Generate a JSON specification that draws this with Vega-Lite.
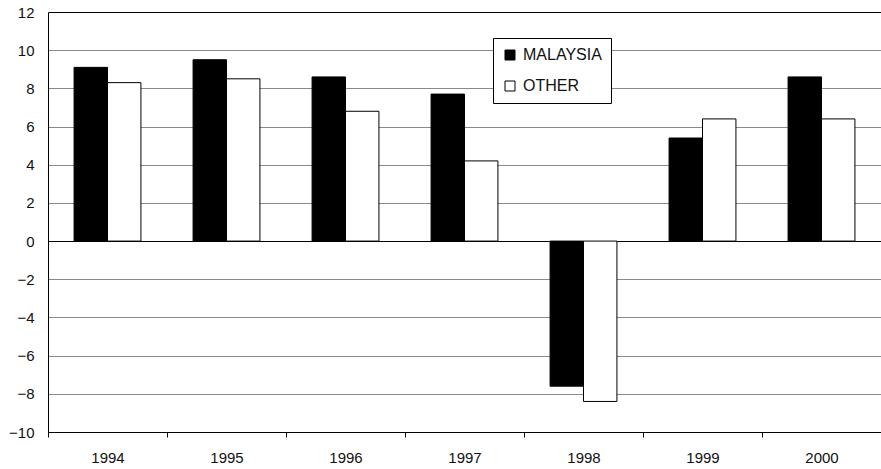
{
  "$schema": "https://vega.github.io/schema/vega-lite/v6.json",
  "width": 833,
  "height": 420,
  "autosize": {"type": "none"},
  "padding": {"left": 48, "top": 12, "right": 0, "bottom": 37},
  "background": "white",
  "config": {
    "font": "Liberation Sans",
    "view": {"stroke": null},
    "axis": {"labelFont": "Liberation Sans", "labelFontSize": 15, "labelColor": "#111"}
  },
  "data": {
    "values": [
      {"year": "1994", "series": "MALAYSIA", "value": 9.1},
      {"year": "1994", "series": "OTHER", "value": 8.3},
      {"year": "1995", "series": "MALAYSIA", "value": 9.5},
      {"year": "1995", "series": "OTHER", "value": 8.5},
      {"year": "1996", "series": "MALAYSIA", "value": 8.6},
      {"year": "1996", "series": "OTHER", "value": 6.8},
      {"year": "1997", "series": "MALAYSIA", "value": 7.7},
      {"year": "1997", "series": "OTHER", "value": 4.2},
      {"year": "1998", "series": "MALAYSIA", "value": -7.6},
      {"year": "1998", "series": "OTHER", "value": -8.4},
      {"year": "1999", "series": "MALAYSIA", "value": 5.4},
      {"year": "1999", "series": "OTHER", "value": 6.4},
      {"year": "2000", "series": "MALAYSIA", "value": 8.6},
      {"year": "2000", "series": "OTHER", "value": 6.4}
    ]
  },
  "mark": {"type": "bar", "stroke": "black", "strokeWidth": 1},
  "encoding": {
    "x": {
      "field": "year",
      "type": "nominal",
      "scale": {"paddingInner": 0, "paddingOuter": 0},
      "axis": {
        "title": null,
        "labelAngle": 0,
        "tickBand": "extent",
        "domainColor": "black",
        "domainWidth": 1,
        "tickColor": "black",
        "tickSize": 5,
        "labelPadding": 13,
        "grid": false
      }
    },
    "xOffset": {
      "field": "series",
      "type": "nominal",
      "sort": ["MALAYSIA", "OTHER"],
      "scale": {"paddingInner": 0, "paddingOuter": 0.78}
    },
    "y": {
      "field": "value",
      "type": "quantitative",
      "scale": {"domain": [-10, 12], "nice": false, "zero": false},
      "axis": {
        "title": null,
        "values": [-10, -8, -6, -4, -2, 0, 2, 4, 6, 8, 10, 12],
        "domainColor": "black",
        "domainWidth": 1,
        "ticks": false,
        "labelPadding": 14,
        "grid": true,
        "gridColor": {"condition": {"test": "datum.value === 0 || datum.value === 12", "value": "black"}, "value": "#8a8a8a"},
        "gridWidth": 1,
        "gridOpacity": 1
      }
    },
    "fill": {
      "field": "series",
      "type": "nominal",
      "scale": {"domain": ["MALAYSIA", "OTHER"], "range": ["black", "white"]},
      "legend": {
        "title": null,
        "orient": "none",
        "legendX": 445,
        "legendY": 26,
        "direction": "vertical",
        "symbolType": "square",
        "symbolSize": 100,
        "symbolStrokeColor": "black",
        "symbolStrokeWidth": 1,
        "labelFontSize": 16,
        "labelFont": "Liberation Sans",
        "labelColor": "#111",
        "labelOffset": 5,
        "rowPadding": 15,
        "padding": 9,
        "strokeColor": "black",
        "fillColor": "white"
      }
    }
  }
}
